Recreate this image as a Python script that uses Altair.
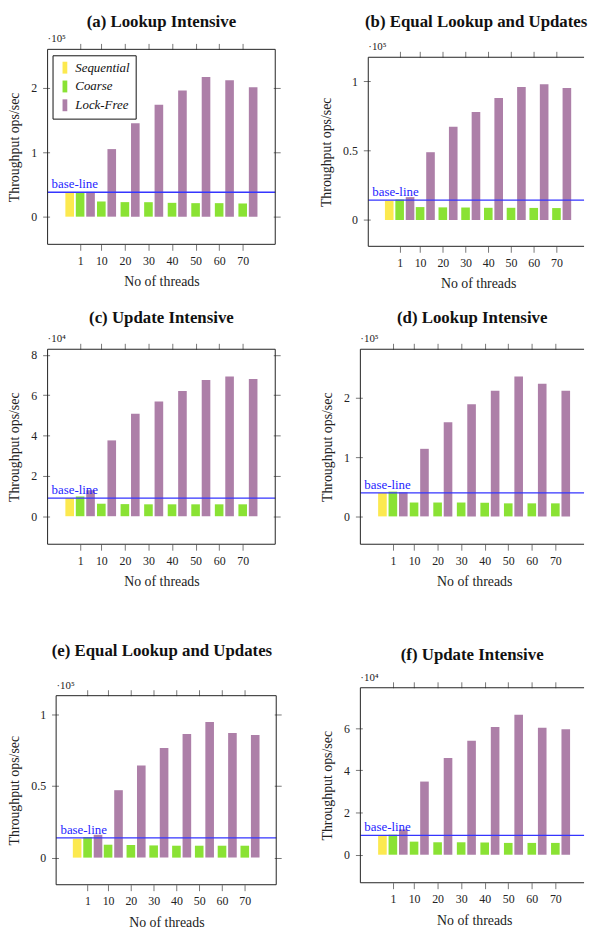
import altair as alt
import pandas as pd

threads = [1, 10, 20, 30, 40, 50, 60, 70]
series = ["Sequential", "Coarse", "Lock-Free"]
colors = ["#FCE94F", "#8AE234", "#AD7FA8"]

titles = ["(a) Lookup Intensive", "(b) Equal Lookup and Updates", "(c) Update Intensive",
          "(d) Lookup Intensive", "(e) Equal Lookup and Updates", "(f) Update Intensive"]

seq_a = 38000
coarse_a = [38000, 23600, 22600, 22500, 21500, 21000, 21000, 20500]
lockfree_a = [38500, 105000, 145000, 174000, 196000, 217000, 212000, 201000]
base_a = 38000

seq_b = 13800
coarse_b = [14800, 9300, 9100, 9000, 8800, 8800, 8700, 8600]
lockfree_b = [16500, 48900, 67300, 78000, 88000, 95900, 98000, 95200]
base_b = 14300

seq_c = 9000
coarse_c = [9800, 6200, 6000, 5900, 5900, 5900, 5900, 5900]
lockfree_c = [12900, 37600, 50800, 56900, 62100, 67600, 69300, 68100]
base_c = 9000

seq_d = 39600
coarse_d = [41800, 23400, 23400, 23400, 23000, 22000, 22000, 22000]
lockfree_d = [40700, 114000, 159000, 189000, 212000, 236000, 224000, 212000]
base_d = 39600

seq_e = 13100
coarse_e = [14300, 9000, 8800, 8500, 8300, 8300, 8300, 8300]
lockfree_e = [15900, 47000, 64300, 76500, 86200, 94500, 86900, 85500]
base_e = 13800

seq_f = 8900
coarse_f = [9500, 6200, 5900, 5900, 5800, 5600, 5600, 5600]
lockfree_f = [12000, 34700, 45900, 54100, 60600, 66400, 60200, 59500]
base_f = 9200

SERIF = "Liberation Serif"
XDOM = [-12.8, 83.8]
FRAME = "#222222"


def panel(title, seq, coarse, lockfree, base, ydom, yticks, exp, fw, fh,
          vis_w=None, ext_left=0, ext_top=0, right_side=True, legend=False,
          title_offset=7):
    vis_w = vis_w or fw
    cw = ext_left + vis_w
    ch = ext_top + fh
    px_x = (XDOM[1] - XDOM[0]) / fw
    px_y = (ydom[1] - ydom[0]) / fh
    xdom_c = [XDOM[0] - ext_left * px_x, XDOM[0] + vis_w * px_x]
    ydom_c = [ydom[0], ydom[1] + ext_top * px_y]
    shift = 11 * px_x

    rows = [{"threads": 1, "series": "Sequential", "value": seq}]
    for t, c, l in zip(threads, coarse, lockfree):
        rows.append({"threads": t, "series": "Coarse", "value": c})
        rows.append({"threads": t, "series": "Lock-Free", "value": l})
    df = pd.DataFrame(rows)
    dfb = pd.DataFrame({"v": [base]})

    xr = XDOM[1] if right_side else xdom_c[1]
    segs = [
        {"x": XDOM[0], "x2": xr, "y": ydom[1], "y2": ydom[1]},
        {"x": XDOM[0], "x2": xr, "y": ydom[0], "y2": ydom[0]},
        {"x": XDOM[0], "x2": XDOM[0], "y": ydom[0], "y2": ydom[1]},
    ]
    if right_side:
        segs.append({"x": XDOM[1], "x2": XDOM[1], "y": ydom[0], "y2": ydom[1]})
    dff = pd.DataFrame(segs)

    xscale = alt.Scale(domain=xdom_c, nice=False, zero=False)
    yscale = alt.Scale(domain=ydom_c, nice=False, zero=False)
    div = 10 ** exp

    if legend:
        leg = alt.Legend(title=None, orient="none", legendX=10, legendY=6,
                         strokeColor="#111", fillColor="white", padding=6,
                         labelFont=SERIF, labelFontStyle="italic", labelFontSize=13,
                         labelColor="#111",
                         symbolType="M-0.4,-1H0.4V1H-0.4Z", symbolSize=144,
                         symbolStrokeWidth=0, symbolOpacity=1, rowPadding=5)
    else:
        leg = None

    bars = alt.Chart(df).transform_calculate(
        xpos=f"datum.threads + (datum.series == 'Sequential' ? {-shift} : "
             f"(datum.series == 'Lock-Free' ? {shift} : 0))"
    ).mark_bar(size=8.7).encode(
        x=alt.X("xpos:Q", scale=xscale,
                axis=alt.Axis(orient="bottom", values=threads, title="No of threads",
                              tickSize=6, domain=False, grid=False, labelPadding=5,
                              titlePadding=9, labelFlush=False,
                              titleX=ext_left + fw / 2)),
        y=alt.Y("value:Q", scale=yscale,
                axis=alt.Axis(orient="left", values=yticks, tickSize=7,
                              offset=-7 - ext_left,
                              domain=False, grid=False, labelPadding=6,
                              labelExpr=f"format(datum.value / {div}, '~g')",
                              title="Throughput ops/sec", titlePadding=9,
                              titleY=ext_top + fh / 2)),
        y2=alt.datum(0),
        color=alt.Color("series:N", scale=alt.Scale(domain=series, range=colors), legend=leg),
    )

    yaxis_r = alt.Axis(orient="right", values=yticks, labels=False, title=None,
                       tickSize=7, offset=-7, domain=False, grid=False) if right_side else None
    ghost = alt.Chart(df).mark_point(opacity=0).encode(
        x=alt.X("threads:Q", scale=xscale,
                axis=alt.Axis(orient="top", values=threads, labels=False, title=None,
                              tickSize=6, domain=False, grid=False, offset=-ext_top)),
        y=alt.Y("value:Q", scale=yscale, axis=yaxis_r),
    )

    rule = alt.Chart(dfb).mark_rule(color="#3535ff", strokeWidth=1.4).encode(
        y=alt.Y("v:Q", scale=yscale, axis=None),
        x=alt.XDatum(XDOM[0], scale=xscale, axis=None),
        x2=alt.X2Datum(xr),
    )
    btxt = alt.Chart(dfb).mark_text(text="base-line", align="left", baseline="bottom",
                                    dy=-1, color="#2525ff", font=SERIF, fontSize=13).encode(
        x=alt.value(ext_left + 9), y=alt.Y("v:Q", scale=yscale, axis=None)
    )
    sup = "⁵" if exp == 5 else "⁴"
    etxt = alt.Chart(dfb).mark_text(text="·10" + sup, align="left", baseline="bottom",
                                    font=SERIF, fontSize=11, color="#222").encode(
        x=alt.value(ext_left + 5), y=alt.value(ext_top - 5)
    )
    frame = alt.Chart(dff).mark_rule(color=FRAME, strokeWidth=1).encode(
        x=alt.X("x:Q", scale=xscale, axis=None), x2="x2:Q",
        y=alt.Y("y:Q", scale=yscale, axis=None), y2="y2:Q",
    )

    return alt.layer(bars, ghost, rule, btxt, etxt, frame).resolve_axis(
        x="independent", y="independent"
    ).properties(
        width=cw, height=ch,
        title=alt.TitleParams(title, font=SERIF, fontSize=17, fontWeight="bold",
                              color="#111", offset=title_offset, anchor="middle"),
    )


pa = panel(titles[0], seq_a, coarse_a, lockfree_a, base_a, [-43000, 260000],
           [0, 100000, 200000], 5, 240, 197, legend=True, title_offset=3)
pb = panel(titles[1], seq_b, coarse_b, lockfree_b, base_b, [-19000, 117400],
           [0, 50000, 100000], 5, 232, 191, vis_w=228, ext_top=8,
           right_side=False, title_offset=11)
pc = panel(titles[2], seq_c, coarse_c, lockfree_c, base_c, [-13900, 82800],
           [0, 20000, 40000, 60000, 80000], 4, 240, 197, title_offset=7)
pd_ = panel(titles[3], seq_d, coarse_d, lockfree_d, base_d, [-47000, 282000],
            [0, 100000, 200000], 5, 240, 197, vis_w=236, right_side=False,
            title_offset=7)
pe = panel(titles[4], seq_e, coarse_e, lockfree_e, base_e, [-18900, 112900],
           [0, 50000, 100000], 5, 232, 191, ext_left=9, ext_top=8, title_offset=20)
pf = panel(titles[5], seq_f, coarse_f, lockfree_f, base_f, [-13300, 79200],
           [0, 20000, 40000, 60000], 4, 240, 197, vis_w=236, right_side=False,
           title_offset=8)

row1 = alt.hconcat(pa, pb, spacing=39).resolve_scale(color="independent")
row2 = alt.hconcat(pc, pd_, spacing=40).resolve_scale(color="independent")
row3 = alt.hconcat(pe, pf, spacing=39).resolve_scale(color="independent")

top2 = alt.vconcat(row1, row2, spacing=18).resolve_scale(color="independent")
chart = alt.vconcat(top2, row3, spacing=54).resolve_scale(color="independent").properties(
    padding={"left": 0, "top": 0, "right": 0, "bottom": 0}
).configure_view(
    stroke=None
).configure_axis(
    labelFont=SERIF, labelFontSize=12, labelColor="#222",
    titleFont=SERIF, titleFontSize=14, titleFontWeight="normal", titleColor="#222",
    tickColor="#777"
)

chart.save("out.html", embed_options={"renderer": "svg", "actions": False})
